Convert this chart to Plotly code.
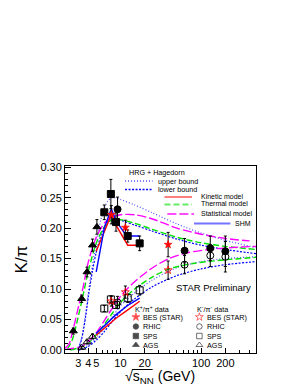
import plotly.graph_objects as go

# ---------------- data ----------------
# K+/pi+ (filled) and K-/pi- (open) measurements
bes_x = [7.7, 11.5, 39.0]
bes_kp = [0.222, 0.201, 0.173]
bes_kp_err = [0.015, 0.012, 0.020]
bes_km = [0.080, 0.095, 0.131]
bes_km_err = [0.008, 0.010, 0.015]

rhic_x = [9.2, 62.4, 130.0, 200.0]
rhic_kp = [0.231, 0.163, 0.167, 0.162]
rhic_kp_err = [0.020, 0.020, 0.020, 0.025]
rhic_km = [0.078, 0.140, 0.155, 0.153]
rhic_km_err = [0.010, 0.015, 0.018, 0.025]

sps_x = [6.3, 7.6, 8.8, 12.3, 17.3]
sps_kp = [0.226, 0.256, 0.210, 0.187, 0.175]
sps_kp_err = [0.012, 0.024, 0.015, 0.010, 0.012]
sps_km = [0.068, 0.083, 0.074, 0.085, 0.098]
sps_km_err = [0.005, 0.006, 0.006, 0.007, 0.008]

ags_kp_x = [2.6, 3.3, 3.85, 4.5, 5.1]
ags_kp = [0.031, 0.084, 0.128, 0.172, 0.202]
ags_kp_err = [0.005, 0.006, 0.008, 0.010, 0.012]
ags_km_x = [3.3, 3.85, 4.5]
ags_km = [0.004, 0.013, 0.022]
ags_km_err = [0.002, 0.003, 0.004]

# model curves
stat_kp_x = [2.05, 2.3, 2.6, 3.0, 3.4, 4.0, 5.0, 6.3, 7.7, 10, 15, 25, 50, 100, 200, 400]
stat_kp_y = [0.003, 0.010, 0.035, 0.070, 0.100, 0.145, 0.185, 0.208, 0.218, 0.222, 0.222, 0.215, 0.200, 0.190, 0.183, 0.179]
therm_kp_x = [2.2, 2.5, 3.0, 3.5, 4.0, 5.0, 6.3, 7.7, 10, 15, 25, 50, 100, 200, 480]
therm_kp_y = [0.002, 0.015, 0.055, 0.095, 0.130, 0.175, 0.202, 0.213, 0.214, 0.208, 0.198, 0.185, 0.176, 0.170, 0.165]
up_kp_x = [3.0, 3.3, 3.7, 4.0, 4.5, 5.0, 6.0, 7.0, 8.0, 10, 15, 25, 50, 100, 200, 480]
up_kp_y = [0.002, 0.020, 0.060, 0.095, 0.140, 0.175, 0.225, 0.245, 0.250, 0.247, 0.238, 0.225, 0.207, 0.192, 0.180, 0.168]
low_kp_x = [3.0, 3.3, 3.7, 4.0, 4.5, 5.0, 6.0, 7.0, 8.0, 10, 15, 25, 50, 100, 200, 480]
low_kp_y = [0.002, 0.018, 0.055, 0.088, 0.130, 0.160, 0.196, 0.212, 0.216, 0.213, 0.205, 0.195, 0.182, 0.172, 0.165, 0.158]

stat_km_x = [2.05, 3.0, 3.5, 4.0, 5.0, 6.3, 7.7, 10, 15, 25, 40, 70, 150, 300, 480]
stat_km_y = [0.001, 0.004, 0.008, 0.014, 0.028, 0.048, 0.066, 0.088, 0.112, 0.135, 0.150, 0.160, 0.166, 0.169, 0.170]
therm_km_x = [2.4, 3.3, 4.0, 5.0, 6.3, 7.7, 10, 15, 25, 40, 80, 200, 480]
therm_km_y = [0.000, 0.005, 0.012, 0.025, 0.042, 0.058, 0.078, 0.100, 0.120, 0.133, 0.142, 0.148, 0.152]
up_km_x = [3.0, 3.5, 4.0, 5.0, 6.3, 7.7, 10, 15, 25, 50, 100, 200, 480]
up_km_y = [0.000, 0.003, 0.008, 0.020, 0.036, 0.052, 0.072, 0.094, 0.115, 0.135, 0.145, 0.150, 0.153]
low_km_x = [3.0, 3.5, 4.0, 5.0, 6.3, 7.7, 10, 15, 25, 50, 100, 200, 480]
low_km_y = [0.000, 0.002, 0.006, 0.016, 0.030, 0.045, 0.063, 0.084, 0.104, 0.122, 0.133, 0.140, 0.145]

model_x = [5.0, 6.3, 7.7, 8.8, 11.5, 12.3, 17.3]
kin_kp = [0.162, 0.195, 0.222, 0.205, 0.178, 0.172, 0.172]
kin_km = [0.024, 0.035, 0.046, 0.052, 0.063, 0.066, 0.080]
shm_kp = [0.128, 0.200, 0.232, 0.212, 0.190, 0.187, 0.187]
shm_km = [0.027, 0.040, 0.052, 0.058, 0.070, 0.073, 0.085]

x_tickvals = [3, 4, 5, 10, 20, 100, 200]
x_ticktext = ["3", "4", "5", "10", "20", "100", "200"]
x_minor = [2, 6, 7, 8, 9, 30, 40, 50, 60, 70, 80, 90, 300, 400]

# ---------------- styling ----------------
FONT = "Liberation Sans, Arial, Helvetica, sans-serif"
RED = "#ff0000"
GREEN = "#00e000"
MAG = "#ff00ff"
BLUE = "#0000ff"
LBLUE = "#4d4dff"

fig = go.Figure()

def curve(x, y, color, dash, width=1.3, shape="spline"):
    fig.add_trace(go.Scatter(x=x, y=y, mode="lines", showlegend=False,
                             line=dict(color=color, dash=dash, width=width, shape=shape,
                                       smoothing=0.8 if shape == "spline" else None),
                             hoverinfo="skip"))

curve(up_kp_x, up_kp_y, LBLUE, "1px,2px", 1.2)
curve(low_kp_x, low_kp_y, BLUE, "2px,1.5px", 1.2)
curve(up_km_x, up_km_y, LBLUE, "1px,2px", 1.2)
curve(low_km_x, low_km_y, BLUE, "2px,1.5px", 1.2)
curve(therm_kp_x, therm_kp_y, GREEN, "6px,3px", 1.4)
curve(therm_km_x, therm_km_y, GREEN, "6px,3px", 1.4)
curve(stat_kp_x, stat_kp_y, MAG, "9px,3px", 1.4)
curve(stat_km_x, stat_km_y, MAG, "9px,3px", 1.4)
curve(model_x, kin_kp, RED, "solid", 1.4, "linear")
curve(model_x, kin_km, RED, "solid", 1.4, "linear")
curve(model_x, shm_kp, BLUE, "solid", 1.4, "linear")
curve(model_x, shm_km, BLUE, "solid", 1.4, "linear")

def points(x, y, err, symbol, color="black", size=7, lw=1):
    fig.add_trace(go.Scatter(
        x=x, y=y, mode="markers", showlegend=False,
        error_y=dict(type="data", array=err, color="black", thickness=1, width=1.5),
        marker=dict(symbol=symbol, size=size, color=color,
                    line=dict(color=color, width=lw))))

points(ags_kp_x, ags_kp, ags_kp_err, "triangle-up")
points(ags_km_x, ags_km, ags_km_err, "triangle-up-open")
points(sps_x, sps_kp, sps_kp_err, "square")
points(sps_x, sps_km, sps_km_err, "square-open")
points(rhic_x, rhic_kp, rhic_kp_err, "circle")
points(rhic_x, rhic_km, rhic_km_err, "circle-open")
points(bes_x, bes_kp, bes_kp_err, "star", color=RED, size=6, lw=0.6)
points(bes_x, bes_km, bes_km_err, "star-open", color=RED, size=6, lw=0.8)

# ---------------- legend (overlay axes in pixel units) ----------------
def seg(x0, x1, y, color, dash, width=1.3):
    fig.add_shape(type="line", xref="x2", yref="y2", x0=x0, x1=x1, y0=y, y1=y,
                  line=dict(color=color, dash=dash, width=width))

def txt(x, y, s, size=7.2, anchor="left"):
    fig.add_annotation(xref="x2", yref="y2", x=x, y=y, text=s, showarrow=False,
                       xanchor=anchor, yanchor="middle",
                       font=dict(family=FONT, size=size, color="black"))

txt(117, 164, "HRG + Hagedorn")
seg(115, 143, 173, LBLUE, "1px,2px")
txt(146, 173, "upper bound")
seg(115, 143, 181.5, BLUE, "2px,1.5px")
txt(146, 181.5, "lower bound")
seg(155, 183, 189, "rgba(255,0,0,0.5)", "solid", 2)
txt(190, 188.5, "Kinetic model", size=7)
seg(155, 183, 196.5, "rgba(0,224,0,0.6)", "6px,3px", 2)
txt(190, 195.8, "Thermal model", size=7)
seg(158, 185, 206, "rgba(255,0,255,0.7)", "9px,3px", 2)
txt(190, 205.5, "Statistical model", size=7)
seg(185, 222, 215.5, "rgba(0,0,255,0.55)", "solid", 2)
txt(225, 215.5, "SHM", size=7)

txt(204.5, 279, "STAR Preliminary", size=9.5, anchor="center")

txt(123, 300.5, "K<sup>+</sup>/π<sup>+</sup> data")
txt(186.5, 300.5, "K<sup>-</sup>/π<sup>-</sup> data")
rows_y = [309, 318.5, 328, 337]
rows_t = ["BES (STAR)", "RHIC", "SPS", "AGS"]
for yy, t in zip(rows_y, rows_t):
    txt(131.5, yy, t)
    txt(196.5, yy, t)
leg_sym_l = ["star", "circle", "square", "triangle-up"]
leg_sym_r = ["star-open", "circle-open", "square-open", "triangle-up-open"]
leg_col = [RED, "black", "black", "black"]
leg_size = [6, 5.5, 5.5, 6]
fig.add_trace(go.Scatter(x=[126] * 4, y=rows_y, xaxis="x2", yaxis="y2", mode="markers",
                         showlegend=False, hoverinfo="skip",
                         marker=dict(symbol=leg_sym_l, color=leg_col, size=leg_size,
                                     line=dict(color=leg_col, width=0.7))))
fig.add_trace(go.Scatter(x=[190.5] * 4, y=rows_y, xaxis="x2", yaxis="y2", mode="markers",
                         showlegend=False, hoverinfo="skip",
                         marker=dict(symbol=leg_sym_r, color=leg_col, size=leg_size,
                                     line=dict(color=leg_col, width=0.8))))

# x-axis title placed like the ROOT original, with the overline of the square root
fig.add_annotation(xref="paper", yref="paper", x=(150 - 54) / 194, y=(345 - 368.5) / 187,
                   text="√s<sub>NN</sub> (GeV)", showarrow=False,
                   xanchor="center", yanchor="middle",
                   font=dict(family=FONT, size=14, color="black"))
fig.add_shape(type="line", xref="paper", yref="paper",
              x0=(122 - 54) / 194, x1=(143 - 54) / 194,
              y0=(345 - 361.5) / 187, y1=(345 - 361.5) / 187,
              line=dict(color="black", width=1))

fig.update_layout(
    width=298, height=385,
    margin=dict(l=54, r=50, t=158, b=40),
    paper_bgcolor="white", plot_bgcolor="white",
    font=dict(family=FONT, color="black"),
    showlegend=False,
    xaxis=dict(type="log", range=[0.3118, 2.6812],
               tickmode="array", tickvals=x_tickvals, ticktext=x_ticktext,
               tickangle=0,
               ticks="inside", ticklen=5, tickwidth=1, tickcolor="black",
               minor=dict(tickmode="array", tickvals=x_minor, ticks="inside", ticklen=3,
                          tickcolor="black"),
               showgrid=False, zeroline=False,
               showline=True, linecolor="black", linewidth=1, mirror=True,
               tickfont=dict(size=11, family=FONT)),
    yaxis=dict(range=[-0.005, 0.302], tickmode="linear", tick0=0, dtick=0.05,
               tickformat=".2f",
               ticks="inside", ticklen=6, tickwidth=1, tickcolor="black",
               minor=dict(dtick=0.01, ticks="inside", ticklen=3, tickcolor="black"),
               showgrid=False, zeroline=False,
               showline=True, linecolor="black", linewidth=1, mirror=True,
               tickfont=dict(size=11, family=FONT),
               title=dict(text="K/π", font=dict(size=17, family=FONT), standoff=8)),
    xaxis2=dict(overlaying="x", anchor="y2", range=[54, 248], visible=False),
    yaxis2=dict(overlaying="y", anchor="x2", range=[345, 158], visible=False),
)

fig.write_html("out.html")
